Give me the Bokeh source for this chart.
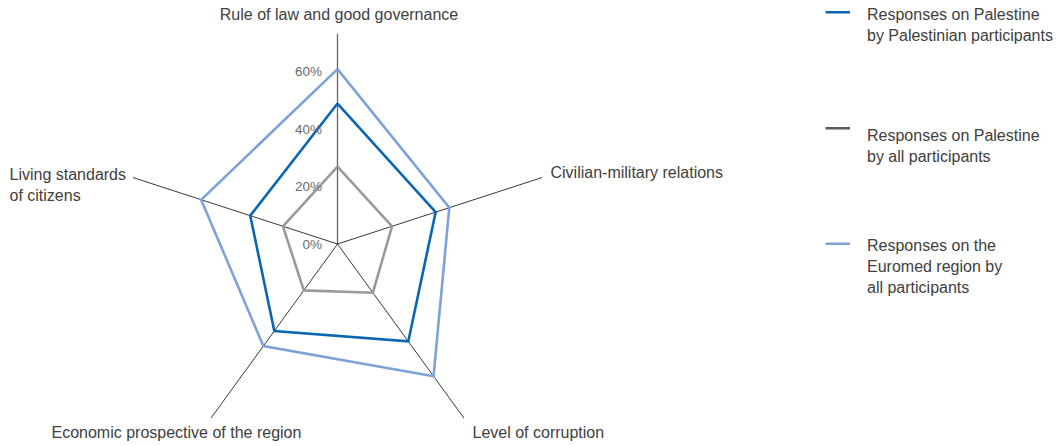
import math
from bokeh.plotting import figure
from bokeh.models import Range1d, Label
from bokeh.embed import file_html
from bokeh.resources import INLINE

# ---- data ----
categories = ["Rule of law and good governance", "Civilian-military relations",
              "Level of corruption", "Economic prospective of the region",
              "Living standards of citizens"]
palestinian_on_palestine = [49, 36, 42, 37.5, 32]
all_on_palestine = [27, 20, 21, 20, 20]
all_on_euromed = [61, 41, 57, 44, 50]
tick_values = [0, 20, 40, 60]
tick_labels = ["0%", "20%", "40%", "60%"]
series_names = [["Responses on Palestine", "by Palestinian participants"],
                ["Responses on Palestine", "by all participants"],
                ["Responses on the", "Euromed region by", "all participants"]]

# ---- styles ----
C_PAL = "#0a66b2"
C_ALL = "#9a9a9a"
C_EURO = "#7ea2d8"
C_LEG_ALL = "#5a5a5a"
TXT = "#404040"
FONT = "Liberation Sans"

W, H = 1057, 446
S = 2.867              # px per percent
CX, CY = 337.0, 243.5  # centre in canvas px (from top-left)

p = figure(width=W, height=H, output_backend="svg", toolbar_location=None,
           x_range=Range1d(-CX / S, (W - CX) / S),
           y_range=Range1d(-(H - CY) / S, CY / S),
           min_border=0)
p.axis.visible = False
p.grid.visible = False
p.outline_line_color = None
p.background_fill_color = "white"
p.border_fill_color = "white"

n = len(categories)
angles = [math.radians(90 - 72 * i) for i in range(n)]
spoke_len = [73.3, 75, 75, 75, 75]

# spokes
for i, a in enumerate(angles):
    p.line([0, spoke_len[i] * math.cos(a)], [0, spoke_len[i] * math.sin(a)],
           line_color="#666666" if i == 0 else "#222222",
           line_width=1.3 if i == 0 else 0.9)

def poly(vals, color, w):
    xs = [v * math.cos(a) for v, a in zip(vals, angles)]
    ys = [v * math.sin(a) for v, a in zip(vals, angles)]
    xs.append(xs[0]); ys.append(ys[0])
    p.line(xs, ys, line_color=color, line_width=w, line_join="miter")

poly(all_on_palestine, C_ALL, 2.6)
poly(palestinian_on_palestine, C_PAL, 2.6)
poly(all_on_euromed, C_EURO, 2.6)

def lab(text, px, py, align="left", color=TXT, size="16px"):
    # px, py in picture pixel coords (from top-left)
    p.add_layout(Label(x=px, y=H - py, x_units="screen", y_units="screen",
                       text=text, text_align=align, text_baseline="middle",
                       text_font=FONT, text_font_size=size, text_color=color))

# tick labels
for v, t in zip(tick_values, tick_labels):
    p.add_layout(Label(x=-15.5 / S, y=v, text=t, text_align="right",
                       text_baseline="middle", text_font=FONT,
                       text_font_size="13.5px", text_color="#6a6a6a"))

# category labels
lab(categories[0], 338.5, 14, align="center")
lab(categories[1], 550, 171.5)
lab(categories[2], 472, 432)
lab(categories[3], 51, 432)
lab("Living standards", 9, 174)
lab("of citizens", 9, 195)

# legend
leg_colors = [C_PAL, C_LEG_ALL, C_EURO]
leg_line_y = [11.7, 127.7, 243.3]
leg_text_y = [14, 135, 245]
def to_data(px, py):
    return ((px - CX) / S, (CY - py) / S)
for c, ly, ty, names in zip(leg_colors, leg_line_y, leg_text_y, series_names):
    x0, y0 = to_data(825, ly)
    x1, _ = to_data(849.5, ly)
    p.line([x0, x1], [y0, y0], line_color=c, line_width=2.6)
    for k, nm in enumerate(names):
        lab(nm, 866.5, ty + 21 * k)

open("out.html", "w").write(file_html(p, INLINE))
